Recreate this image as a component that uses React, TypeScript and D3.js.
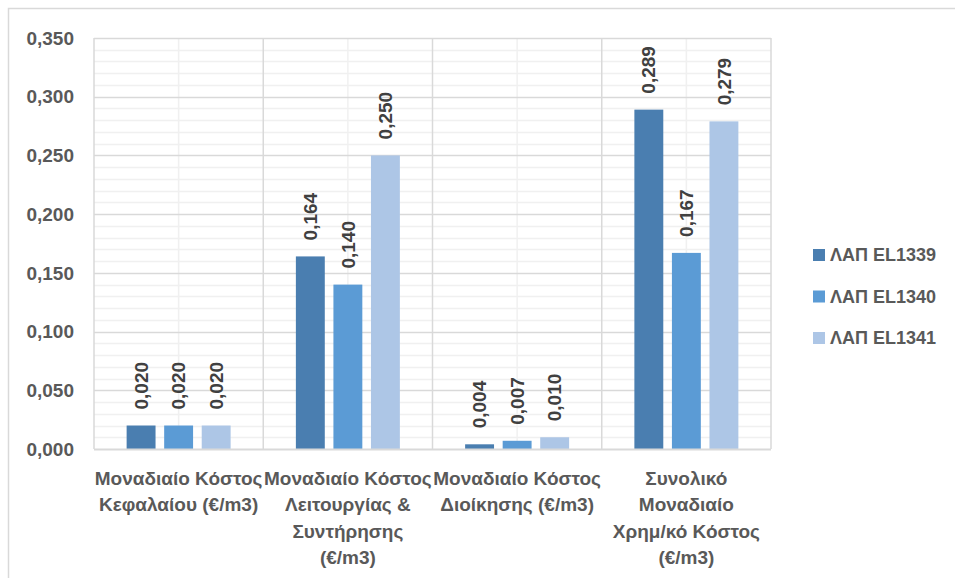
import * as d3 from 'd3';
import { useEffect, useRef } from 'react';

const categories = [
  ['Μοναδιαίο Κόστος', 'Κεφαλαίου (€/m3)'],
  ['Μοναδιαίο Κόστος', 'Λειτουργίας &', 'Συντήρησης', '(€/m3)'],
  ['Μοναδιαίο Κόστος', 'Διοίκησης (€/m3)'],
  ['Συνολικό', 'Μοναδιαίο', 'Χρημ/κό Κόστος', '(€/m3)'],
];
const seriesNames = ['ΛΑΠ EL1339', 'ΛΑΠ EL1340', 'ΛΑΠ EL1341'];
const el1339 = [0.020, 0.164, 0.004, 0.289];
const el1340 = [0.020, 0.140, 0.007, 0.167];
const el1341 = [0.020, 0.250, 0.010, 0.279];
const yTicks = [0, 0.05, 0.1, 0.15, 0.2, 0.25, 0.3, 0.35];
const colors = ['#4a7eb0', '#5b9bd5', '#adc6e6'];

const fmt = (v: number) => v.toFixed(3).replace('.', ',');
const FONT = '"Liberation Sans", Arial, sans-serif';

export default function App() {
  const svgRef = useRef<SVGSVGElement>(null);

  useEffect(() => {
    const svg = d3.select(svgRef.current);
    svg.selectAll('*').remove();

    const left = 94, right = 771, top = 38, bottom = 449;
    const series = [el1339, el1340, el1341];

    const x = d3.scaleBand<number>().domain(d3.range(categories.length)).range([left, right]).padding(0);
    const y = d3.scaleLinear().domain([0, 0.35]).range([bottom, top]);
    const xs = d3.scaleBand<number>().domain(d3.range(series.length)).range([0, 104]).paddingInner(0.23);

    // chart border
    svg.append('rect')
      .attr('x', 8.5).attr('y', 8.5).attr('width', 990).attr('height', 620)
      .attr('fill', 'white').attr('stroke', '#d9d9d9').attr('stroke-width', 1.5);

    // minor horizontal gridlines
    svg.append('g').selectAll('line')
      .data(d3.range(1, 35).map(i => i / 100).filter((_, i) => (i + 1) % 5 !== 0))
      .join('line')
      .attr('x1', left).attr('x2', right)
      .attr('y1', d => Math.round(y(d)) + 0.5).attr('y2', d => Math.round(y(d)) + 0.5)
      .attr('stroke', '#f0f0f0').attr('stroke-width', 1.5);

    // minor vertical gridlines at category centres
    svg.append('g').selectAll('line')
      .data(d3.range(categories.length))
      .join('line')
      .attr('x1', d => x(d)! + x.bandwidth() / 2).attr('x2', d => x(d)! + x.bandwidth() / 2)
      .attr('y1', top).attr('y2', bottom)
      .attr('stroke', '#f0f0f0').attr('stroke-width', 1.5);

    // major horizontal gridlines
    svg.append('g').selectAll('line')
      .data(yTicks.slice(1))
      .join('line')
      .attr('x1', left).attr('x2', right)
      .attr('y1', d => Math.round(y(d)) + 0.5).attr('y2', d => Math.round(y(d)) + 0.5)
      .attr('stroke', '#d9d9d9').attr('stroke-width', 1.5);

    // major vertical gridlines at category boundaries
    svg.append('g').selectAll('line')
      .data(d3.range(categories.length + 1))
      .join('line')
      .attr('x1', d => left + d * x.bandwidth()).attr('x2', d => left + d * x.bandwidth())
      .attr('y1', top).attr('y2', bottom)
      .attr('stroke', '#d9d9d9').attr('stroke-width', 1.5);

    // y tick labels
    svg.append('g').selectAll('text')
      .data(yTicks)
      .join('text')
      .attr('x', 74).attr('y', d => y(d))
      .attr('dy', '0.35em')
      .attr('text-anchor', 'end')
      .attr('font-family', FONT).attr('font-weight', 'bold').attr('font-size', 19)
      .attr('fill', '#595959')
      .text(d => fmt(d));

    // bars
    series.forEach((vals, s) => {
      const g = svg.append('g');
      g.selectAll('rect')
        .data(vals)
        .join('rect')
        .attr('x', (_, i) => x(i)! + x.bandwidth() / 2 - 52 + xs(s)!)
        .attr('width', xs.bandwidth())
        .attr('y', d => y(d))
        .attr('height', d => bottom - y(d))
        .attr('fill', colors[s]);

      g.selectAll('text')
        .data(vals)
        .join('text')
        .attr('transform', (d, i) => {
          const cx = x(i)! + x.bandwidth() / 2 - 52 + xs(s)! + xs.bandwidth() / 2;
          return `translate(${cx},${y(d) - 16}) rotate(-90)`;
        })
        .attr('dy', '0.35em')
        .attr('text-anchor', 'start')
        .attr('font-family', FONT).attr('font-weight', 'bold').attr('font-size', 19)
        .attr('fill', '#404040')
        .text(d => fmt(d));
    });

    // x axis line
    svg.append('line')
      .attr('x1', left).attr('x2', right)
      .attr('y1', bottom + 0.5).attr('y2', bottom + 0.5)
      .attr('stroke', '#d9d9d9').attr('stroke-width', 2);

    // category labels
    const cat = svg.append('g').selectAll('text')
      .data(categories)
      .join('text')
      .attr('x', (_, i) => x(i)! + x.bandwidth() / 2)
      .attr('y', 478)
      .attr('text-anchor', 'middle')
      .attr('font-family', FONT).attr('font-weight', 'bold').attr('font-size', 19)
      .attr('fill', '#595959');
    cat.selectAll('tspan')
      .data(d => d)
      .join('tspan')
      .attr('x', function () {
        return (this.parentNode as SVGTextElement).getAttribute('x');
      })
      .attr('dy', (_, j) => (j === 0 ? '0.35em' : '26.5'))
      .text(d => d);

    // legend
    const leg = svg.append('g').selectAll('g')
      .data(seriesNames)
      .join('g')
      .attr('transform', (_, i) => `translate(813,${255 + i * 41.5})`);
    leg.append('rect')
      .attr('x', 0).attr('y', -6).attr('width', 12).attr('height', 12)
      .attr('fill', (_, i) => colors[i]);
    leg.append('text')
      .attr('x', 17).attr('dy', '0.35em')
      .attr('font-family', FONT).attr('font-weight', 'bold').attr('font-size', 18)
      .attr('fill', '#595959')
      .text(d => d);
  }, []);

  return (
    <svg
      ref={svgRef}
      width={955}
      height={578}
      style={{ position: 'absolute', left: 0, top: 0, background: 'white' }}
    />
  );
}
